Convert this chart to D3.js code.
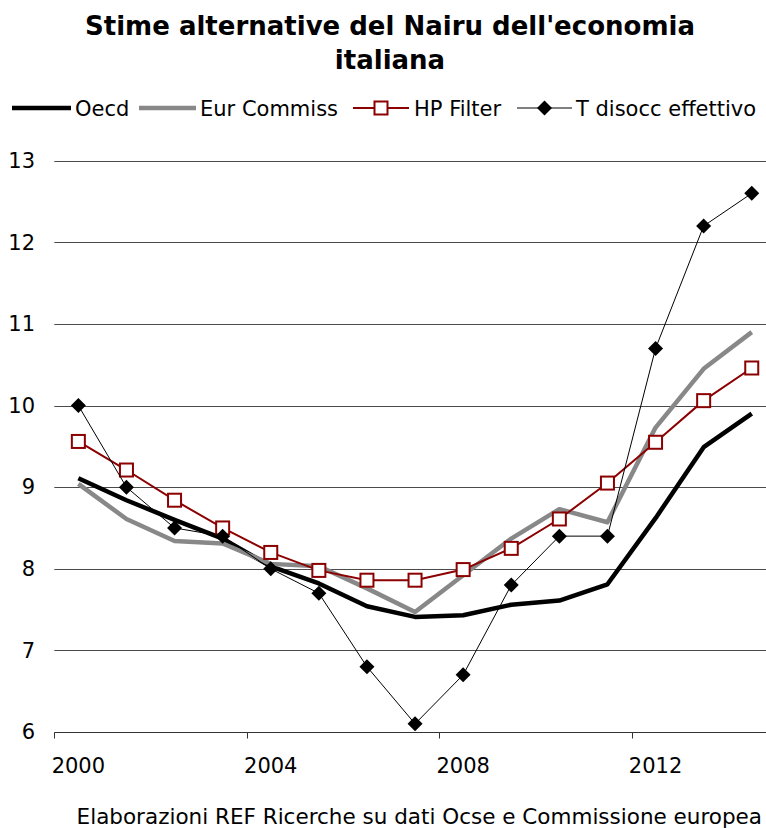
<!DOCTYPE html>
<html>
<head>
<meta charset="utf-8">
<script src="https://cdn.jsdelivr.net/npm/d3@7"></script>
<style>
  html, body { margin: 0; padding: 0; background: #ffffff; }
  svg { display: block; }
  text { font-family: "DejaVu Sans", Verdana, sans-serif; fill: #000; }
</style>
</head>
<body>
<svg id="chart" width="766" height="828"></svg>
<script>
// ---- data ----
const years = ["2000","2001","2002","2003","2004","2005","2006","2007","2008","2009","2010","2011","2012","2013","2014"];
const oecd       = [9.11, 8.84, 8.60, 8.37, 8.03, 7.82, 7.54, 7.41, 7.43, 7.56, 7.61, 7.81, 8.62, 9.49, 9.90];
const eurCommiss = [9.04, 8.61, 8.34, 8.31, 8.06, 8.03, 7.76, 7.47, 7.92, 8.37, 8.73, 8.57, 9.73, 10.45, 10.90];
const hpFilter   = [9.56, 9.21, 8.84, 8.50, 8.20, 7.98, 7.86, 7.86, 7.99, 8.25, 8.61, 9.05, 9.55, 10.06, 10.46];
const tDisocc    = [10.0, 9.0, 8.5, 8.4, 8.0, 7.7, 6.8, 6.1, 6.7, 7.8, 8.4, 8.4, 10.7, 12.2, 12.6];
const yTicks = [6, 7, 8, 9, 10, 11, 12, 13];
const xTickLabels = ["2000", "2004", "2008", "2012"];
const seriesNames = ["Oecd", "Eur Commiss", "HP Filter", "T disocc effettivo"];
const titleLines = ["Stime alternative del Nairu dell'economia", "italiana"];
const sourceText = "Elaborazioni REF Ricerche su dati Ocse e Commissione europea";

// ---- layout ----
const W = 766, H = 828;
const plotLeft = 54.3, step = 48.1;
const svg = d3.select("#chart");

const x = d3.scaleBand().domain(years).range([plotLeft, plotLeft + step * years.length]).padding(0);
const y = d3.scaleLinear().domain([6, 13]).range([732, 160.7]);
const cx = d => x(d) + x.bandwidth() / 2;

// title
svg.append("g").selectAll("text").data(titleLines).join("text")
  .attr("x", 390).attr("y", (d, i) => 35 + i * 34)
  .attr("text-anchor", "middle")
  .style("font-size", "26px").style("font-weight", "bold")
  .text(d => d);

// gridlines
svg.append("g").selectAll("line").data(yTicks.filter(t => t > 6)).join("line")
  .attr("x1", plotLeft).attr("x2", W)
  .attr("y1", d => Math.round(y(d)) + 0.5).attr("y2", d => Math.round(y(d)) + 0.5)
  .attr("stroke", "#4a4a4a").attr("stroke-width", 1);

// y axis labels
const yAxis = d3.axisLeft(y).tickValues(yTicks).tickFormat(d3.format("d")).tickSize(0).tickPadding(0);
const gy = svg.append("g").attr("transform", "translate(35,0)").call(yAxis);
gy.select(".domain").remove();
gy.selectAll("text").style("font-size", "21px").style("font-family", "DejaVu Sans").attr("fill", "#000");

// x axis (base line at 6)
const baseY = Math.round(y(6)) + 0.5;
svg.append("line").attr("x1", plotLeft).attr("x2", W).attr("y1", baseY).attr("y2", baseY)
  .attr("stroke", "#333").attr("stroke-width", 1);
svg.append("g").selectAll("line").data(xTickLabels).join("line")
  .attr("x1", d => Math.round(x(d)) + 0.5).attr("x2", d => Math.round(x(d)) + 0.5)
  .attr("y1", baseY).attr("y2", baseY + 6)
  .attr("stroke", "#333").attr("stroke-width", 1);
const xAxis = d3.axisBottom(x).tickValues(xTickLabels).tickSize(0).tickPadding(0);
const gx = svg.append("g").attr("transform", "translate(0,773)").call(xAxis);
gx.select(".domain").remove();
gx.selectAll("text").attr("dy", 0).style("font-size", "21px").style("font-family", "DejaVu Sans").attr("fill", "#000");

// lines
const line = d3.line().x((d, i) => cx(years[i])).y(d => y(d));
svg.append("path").datum(oecd).attr("d", line)
  .attr("fill", "none").attr("stroke", "#000").attr("stroke-width", 4.5).attr("stroke-linejoin", "round");
svg.append("path").datum(eurCommiss).attr("d", line)
  .attr("fill", "none").attr("stroke", "#888888").attr("stroke-width", 4.5).attr("stroke-linejoin", "round");
svg.append("path").datum(hpFilter).attr("d", line)
  .attr("fill", "none").attr("stroke", "#8b0000").attr("stroke-width", 2);
svg.append("g").selectAll("rect").data(hpFilter).join("rect")
  .attr("x", (d, i) => cx(years[i]) - 6.5).attr("y", d => y(d) - 6.5)
  .attr("width", 13).attr("height", 13)
  .attr("fill", "#fff").attr("stroke", "#8b0000").attr("stroke-width", 2);
svg.append("path").datum(tDisocc).attr("d", line)
  .attr("fill", "none").attr("stroke", "#000").attr("stroke-width", 1);
const diamond = s => `M0,${-s}L${s},0L0,${s}L${-s},0Z`;
svg.append("g").selectAll("path").data(tDisocc).join("path")
  .attr("transform", (d, i) => `translate(${cx(years[i])},${y(d)})`)
  .attr("d", diamond(7.5)).attr("fill", "#000");

// legend
const lg = svg.append("g");
const ly = 108;
const legendItems = [
  { name: seriesNames[0], x1: 12, x2: 71, tx: 75, stroke: "#000", sw: 4.5, marker: null },
  { name: seriesNames[1], x1: 139, x2: 196, tx: 200, stroke: "#888888", sw: 4.5, marker: null },
  { name: seriesNames[2], x1: 353, x2: 409, tx: 414, stroke: "#8b0000", sw: 2, marker: "square" },
  { name: seriesNames[3], x1: 517, x2: 572, tx: 576, stroke: "#000", sw: 1, marker: "diamond" }
];
legendItems.forEach(it => {
  lg.append("line").attr("x1", it.x1).attr("x2", it.x2).attr("y1", ly).attr("y2", ly)
    .attr("stroke", it.stroke).attr("stroke-width", it.sw);
  const mx = (it.x1 + it.x2) / 2;
  if (it.marker === "square") {
    lg.append("rect").attr("x", mx - 6.5).attr("y", ly - 6.5).attr("width", 13).attr("height", 13)
      .attr("fill", "#fff").attr("stroke", "#8b0000").attr("stroke-width", 2);
  } else if (it.marker === "diamond") {
    lg.append("path").attr("transform", `translate(${mx},${ly})`).attr("d", diamond(7.5)).attr("fill", "#000");
  }
  lg.append("text").attr("x", it.tx).attr("y", ly + 7.5).style("font-size", "21px").text(it.name);
});

// source
svg.append("text").attr("x", 762).attr("y", 824).attr("text-anchor", "end")
  .style("font-size", "21.5px").text(sourceText);
</script>
</body>
</html>
